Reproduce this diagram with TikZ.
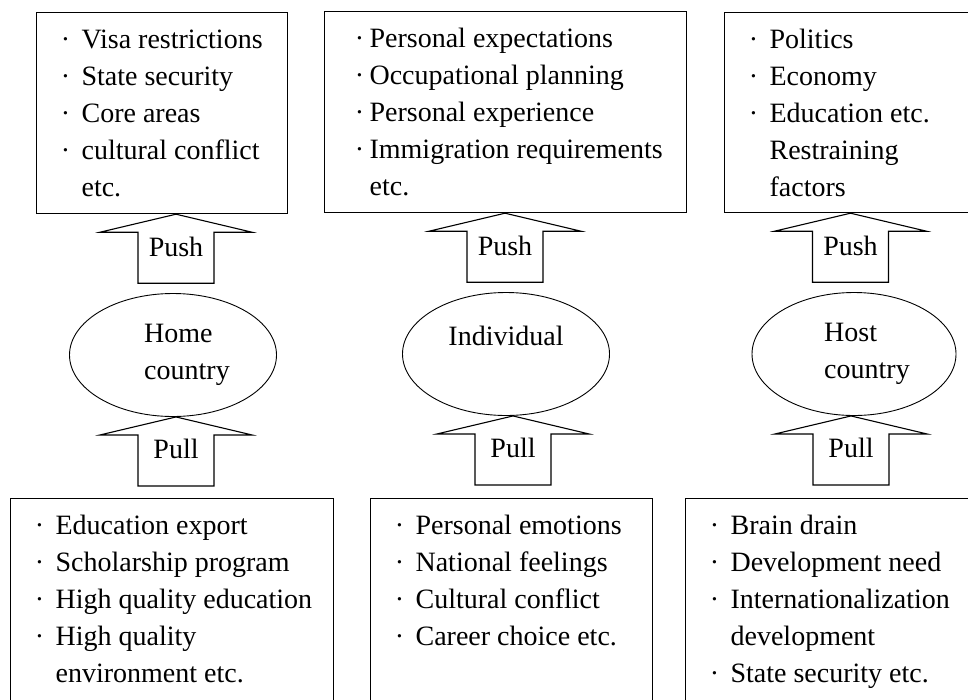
\documentclass[tikz,border=0pt]{standalone}
\usepackage{fontspec}
\setmainfont{Liberation Serif}
\usetikzlibrary{shapes.geometric,calc}

% dot in front of a line of a list
\newcommand{\bul}[1][11.5pt]{\leavevmode\llap{\textperiodcentered\hspace{#1}}}
% list set in a box of fixed size
\newcommand{\boxtext}[3]{\parbox[c][#2][t]{#1}{\raggedright\leftskip=45pt\vspace*{10pt}\strut#3}}
% wide arrow pointing up, tip at #1
\newcommand{\fatarrow}[3]{%
	\draw[blk] (#1) -- ++(-76,18) -- ++(38,0) -- ++(0,51) -- ++(76,0) -- ++(0,-51) -- ++(38,0) -- cycle;
	\node[lbl] (#2) at ([yshift=-42pt]#1) {#3};}

\tikzset{
	box/.style={draw, line width=1.2pt, inner sep=0pt, anchor=north west},
	ell/.style={draw, ellipse, line width=0.9pt, inner sep=0pt, minimum width=207pt, minimum height=123pt, align=left},
	blk/.style={draw, line width=1.1pt, line join=miter},
	lbl/.style={anchor=base, inner sep=0pt}
}

\begin{document}
\begin{tikzpicture}[x=1pt,y=-1pt,font=\fontsize{28}{37}\selectfont]
	\useasboundingbox (0,0) rectangle (968,699);
	% les cases du haut
	\node[box] (t1) at (36,12) {\boxtext{251pt}{201pt}{\bul Visa restrictions\\\bul State security\\\bul Core areas\\\bul cultural conflict\\etc.}};
	\node[box] (t2) at (324,11) {\boxtext{362pt}{201pt}{\bul[5.5pt]Personal expectations\\\bul[5.5pt]Occupational planning\\\bul[5.5pt]Personal experience\\\bul[5.5pt]Immigration requirements\\etc.}};
	\node[box] (t3) at (724,12) {\boxtext{262pt}{200pt}{\bul Politics\\\bul Economy\\\bul Education etc.\\Restraining\\factors}};
	% les ellipses
	\node[ell] (e1) at (173,355) {\hspace*{28pt}Home\\\hspace*{28pt}country};
	\node[ell] (e2) at (506,354) {Individual\\\mbox{}};
	\node[ell, minimum width=204pt] (e3) at (854,354) {\hspace*{26pt}Host\\\hspace*{26pt}country};
	% les cases du bas
	\node[box] (d1) at (10,498) {\boxtext{323pt}{220pt}{\bul Education export\\\bul Scholarship program\\\bul High quality education\\\bul High quality\\environment etc.}};
	\node[box] (d2) at (370,498) {\boxtext{282pt}{220pt}{\bul Personal emotions\\\bul National feelings\\\bul Cultural conflict\\\bul Career choice etc.}};
	\node[box] (d3) at (685,498) {\boxtext{300pt}{220pt}{\bul Brain drain\\\bul Development need\\\bul Internationalization\\development\\\bul State security etc.}};
	% les fleches
	\coordinate (u1) at ($(e1.north |- t1.south)+(3,0)$);
	\coordinate (u2) at ($(e2.north |- t2.south)+(-1,0)$);
	\coordinate (u3) at ($(e3.north |- t3.south)+(-3.5,0)$);
	\coordinate (v1) at ($(e1.south)+(3,0)$);
	\coordinate (v2) at ($(e2.south)+(7,0)$);
	\coordinate (v3) at ($(e3.south)+(-3,0)$);
	\fatarrow{u1}{push1}{Push}
	\fatarrow{u2}{push2}{Push}
	\fatarrow{u3}{push3}{Push}
	\fatarrow{v1}{pull1}{Pull}
	\fatarrow{v2}{pull2}{Pull}
	\fatarrow{v3}{pull3}{Pull}
\end{tikzpicture}
\end{document}
